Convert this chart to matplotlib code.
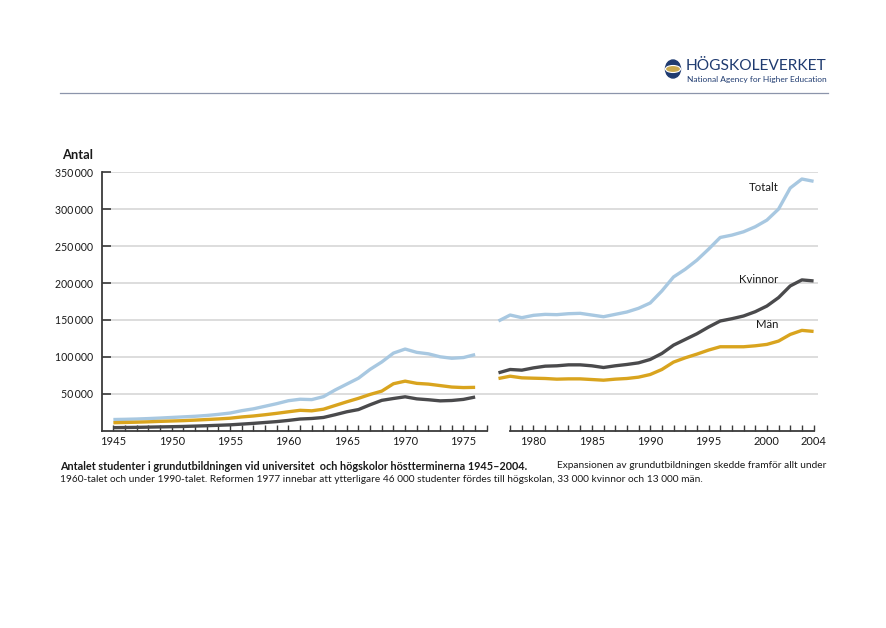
import matplotlib
matplotlib.use("Agg")
import matplotlib.pyplot as plt
from matplotlib.patches import Ellipse
from matplotlib.lines import Line2D

plt.rcParams['font.family'] = ['Lato', 'DejaVu Sans']

# ---------------- data ----------------
years_early = list(range(1945, 1977))
totalt_early = [15000, 15300, 15700, 16300, 17000, 17800, 18600, 19400, 20500, 22000,
                23800, 27000, 29500, 33000, 36500, 40500, 42500, 42000, 46000, 55000,
                63000, 71000, 83000, 93000, 105000, 110500, 106000, 104000, 100000, 98000,
                99000, 103000]
man_early = [10700, 11000, 11400, 11900, 12500, 13000, 13500, 14200, 15000, 15800,
             16800, 18500, 19800, 21500, 23400, 25500, 27500, 26800, 29000, 34000,
             39000, 43700, 49000, 53500, 63500, 67000, 64000, 63000, 61000, 59000,
             58300, 58600]
kvinnor_early = [4000, 4200, 4400, 4700, 5000, 5300, 5600, 6100, 6600, 7200,
                 7800, 8800, 9800, 11000, 12200, 13800, 15700, 16400, 17800, 21500,
                 25500, 28500, 35000, 41000, 43500, 45800, 43000, 41800, 40300, 40800,
                 42300, 45500]

years_late = list(range(1977, 2005))
totalt_late = [148500, 156600, 153000, 156200, 157500, 157100, 158400, 158900, 156600, 154300,
               157500, 160700, 165700, 172900, 189200, 208200, 218600, 230900, 245800, 261700,
               264900, 269400, 276200, 285200, 300200, 328700, 340900, 337800]
kvinnor_late = [78300, 82800, 81900, 85000, 87300, 87800, 89100, 89100, 87800, 85500,
                87800, 89600, 91800, 96400, 104500, 115800, 123500, 131200, 140300, 148500,
                151600, 155300, 161100, 168800, 180200, 196000, 204200, 202800]
man_late = [70600, 73700, 71500, 71000, 70600, 69700, 70100, 70100, 69200, 68300,
            69700, 70600, 72400, 76000, 82800, 92800, 98600, 103600, 109100, 113600,
            113600, 113600, 114900, 116800, 121300, 130300, 135800, 134400]

y_ticks = [50000, 100000, 150000, 200000, 250000, 300000, 350000]
x_labels = [1945, 1950, 1955, 1960, 1965, 1970, 1975, 1980, 1985, 1990, 1995, 2000, 2004]

series_names = ["Totalt", "Kvinnor", "Män"]


def slot(year):
    # axis with a blank slot between 1976 and 1977
    return year - 1945 if year <= 1976 else year - 1944


# ---------------- figure ----------------
W, H = 887, 628
fig = plt.figure(figsize=(W / 100, H / 100), dpi=100)
fig.patch.set_facecolor('white')

def fx(px):
    return px / W

def fy(py):
    return 1 - py / H

ax_left, ax_right = 101.7, 818
ax_top, ax_bottom = 172.3, 430.6
ax = fig.add_axes([fx(ax_left), fy(ax_bottom), (ax_right - ax_left) / W, (ax_bottom - ax_top) / H])

xmin = -1
xmax = xmin + (ax_right - ax_left) / 11.67
ax.set_xlim(xmin, xmax)
ax.set_ylim(0, 350000)

c_tot = '#a8c8e1'
c_kv = '#4a4a4c'
c_man = '#d9a41e'
lw = 2.4

xe = [slot(y) for y in years_early]
xl = [slot(y) for y in years_late]
kw = dict(lw=lw, solid_joinstyle='round', solid_capstyle='butt')
ax.plot(xe, totalt_early, color=c_tot, zorder=3, **kw)
ax.plot(xe, man_early, color=c_man, zorder=3, **kw)
ax.plot(xe, kvinnor_early, color=c_kv, zorder=4, **kw)
ax.plot(xl, totalt_late, color=c_tot, zorder=3, **kw)
ax.plot(xl, man_late, color=c_man, zorder=3, **kw)
ax.plot(xl, kvinnor_late, color=c_kv, zorder=4, **kw)

# grid
for v in y_ticks:
    ax.axhline(v, color='#dadada', lw=1.3, zorder=1)

# spines
for s in ['top', 'right', 'bottom']:
    ax.spines[s].set_visible(False)
ax.spines['left'].set_color('#3a3a3a')
ax.spines['left'].set_linewidth(1.3)
ax.spines['left'].set_zorder(5)

# broken x axis line
ax.plot([xmin, slot(1976) + 1], [0, 0], color='#3a3a3a', lw=1.3, clip_on=False, zorder=5)
ax.plot([slot(1977) + 1, slot(2004)], [0, 0], color='#3a3a3a', lw=1.3, clip_on=False, zorder=5)

# y ticks
ax.set_yticks(y_ticks)
ax.set_yticklabels([f"{v:,}".replace(",", "\u2009") for v in y_ticks])
ax.tick_params(axis='y', direction='in', length=6.5, width=1.2, color='#3a3a3a',
               labelsize=7.6, labelcolor='#1a1a1a', pad=6)

# x ticks
tick_pos = list(range(0, slot(1976) + 2)) + list(range(slot(1977) + 1, slot(2004) + 1))
lab_pos = {slot(y): str(y) for y in x_labels}
ax.set_xticks(tick_pos)
ax.set_xticklabels([lab_pos.get(p, '') for p in tick_pos])
ax.tick_params(axis='x', direction='in', length=4.3, width=1.0, color='#3a3a3a',
               labelsize=8, labelcolor='#1a1a1a', pad=4)

# series labels
ax.text(slot(2001), 330000, series_names[0], ha='right', va='center', fontsize=8.2, color='#1a1a1a')
ax.text(slot(2001), 205400, series_names[1], ha='right', va='center', fontsize=8.2, color='#1a1a1a')
ax.text(slot(2001), 144400, series_names[2], ha='right', va='center', fontsize=8.2, color='#1a1a1a')

# y-axis title
fig.text(fx(62), fy(155), "Antal", ha='left', va='center', fontsize=9.3, fontweight='bold', color='#1a1a1a')

# ---------------- header ----------------
navy = '#1f3b70'
fig.add_artist(Line2D([fx(60), fx(828)], [fy(93), fy(93)], color='#8c95ab', lw=0.9))
fig.add_artist(Ellipse((fx(673), fy(69)), 15 / W, 18 / H, color=navy, transform=fig.transFigure))
fig.add_artist(Ellipse((fx(673), fy(69)), 15 / W, 7 / H, facecolor='#c9a94e', edgecolor='white',
                       lw=0.8, transform=fig.transFigure))
fig.text(fx(686), fy(66.5), "HÖGSKOLEVERKET", ha='left', va='center', fontsize=11.2, color=navy)
fig.text(fx(687), fy(79.5), "National Agency for Higher Education", ha='left', va='center',
         fontsize=6.0, color=navy)

# ---------------- caption ----------------
fig.text(fx(60), fy(466), "Antalet studenter i grundutbildningen vid universitet  och högskolor höstterminerna 1945–2004.",
         ha='left', va='center', fontsize=7.85, fontweight='bold', color='#1a1a1a')
fig.text(fx(557), fy(466), "Expansionen av grundutbildningen skedde framför allt under",
         ha='left', va='center', fontsize=7.3, color='#1a1a1a')
fig.text(fx(60), fy(480), "1960-talet och under 1990-talet. Reformen 1977 innebar att ytterligare 46 000 studenter fördes till högskolan, 33 000 kvinnor och 13 000 män.",
         ha='left', va='center', fontsize=7.3, color='#1a1a1a')

fig.savefig("out.png", dpi=100)
